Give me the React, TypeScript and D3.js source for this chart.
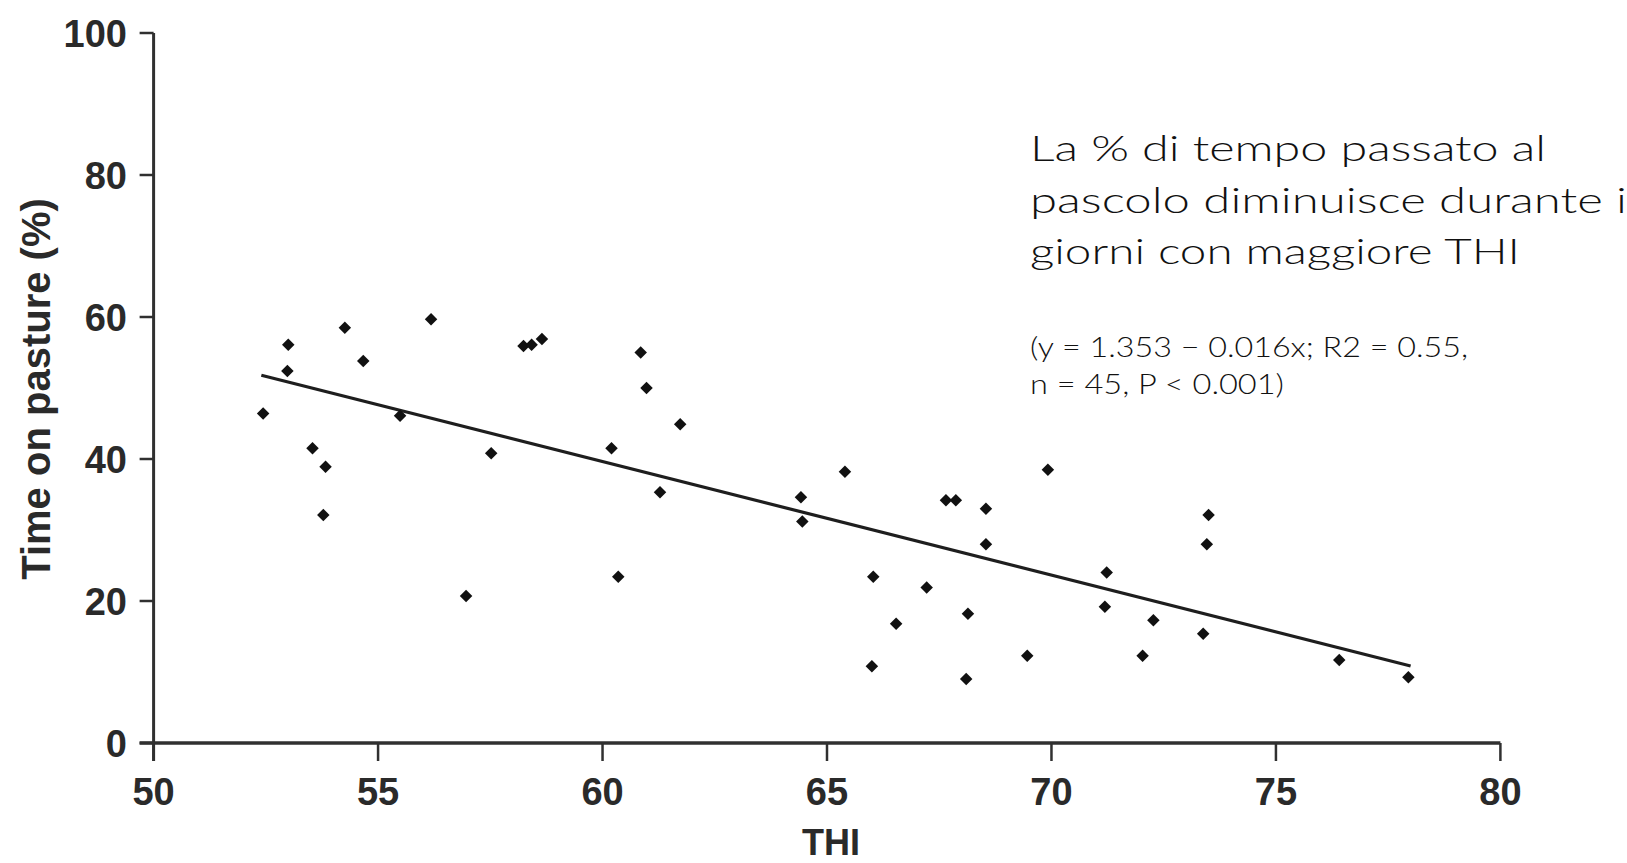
import React from 'react';
import * as d3 from 'd3';

// THI values (x) and time on pasture (%) (y)
const thi = [
  52.44, 53.0, 52.98, 54.26, 54.67, 53.54, 53.83, 53.78, 56.18, 55.49,
  57.52, 56.96, 58.24, 58.42, 58.65, 60.85, 60.98, 61.73, 60.2, 61.28,
  60.35, 65.4, 64.42, 64.45, 66.03, 66.0, 66.54, 67.22, 67.65, 67.87,
  68.54, 68.54, 68.14, 68.1, 69.92, 69.46, 71.23, 71.19, 72.27, 72.03,
  73.5, 73.46, 73.38, 76.41, 77.95,
];
const pasture = [
  46.4, 56.1, 52.4, 58.5, 53.8, 41.5, 38.9, 32.1, 59.7, 46.1,
  40.8, 20.7, 55.9, 56.1, 56.9, 55.0, 50.0, 44.9, 41.5, 35.3,
  23.4, 38.2, 34.6, 31.2, 23.4, 10.8, 16.8, 21.9, 34.2, 34.2,
  33.0, 28.0, 18.2, 9.0, 38.5, 12.3, 24.0, 19.2, 17.3, 12.3,
  32.1, 28.0, 15.4, 11.7, 9.25,
];
const fitX = [52.4, 78.0];
const fitY = [51.8, 10.85];
const xTicks = [50, 55, 60, 65, 70, 75, 80];
const yTicks = [0, 20, 40, 60, 80, 100];
const xDomain = [50, 80];
const yDomain = [0, 100];
const xTitle = 'THI';
const yTitle = 'Time on pasture (%)';
const noteLines = ['La % di tempo passato al', 'pascolo diminuisce durante i', 'giorni con maggiore THI'];
const statLines = ['(y = 1.353 \u2212 0.016x; R2 = 0.55,', 'n = 45, P < 0.001)'];

const W = 1627;
const H = 863;

export default function App() {
  const x = d3.scaleLinear().domain(xDomain).range([153.6, 1500.4]);
  const y = d3.scaleLinear().domain(yDomain).range([743, 33]);
  const points = thi.map((t, i) => ({ x: t, y: pasture[i] }));
  const fit = fitX.map((t, i) => ({ x: t, y: fitY[i] }));
  const line = d3.line<{ x: number; y: number }>().x((d) => x(d.x)).y((d) => y(d.y));
  const marker = d3.symbol().type(d3.symbolSquare).size(78)() as string;

  const axisColor = '#303030';
  const tickFont = { fontFamily: '"Liberation Sans", Arial, sans-serif', fontWeight: 700, fontSize: 38, fill: '#2a2a2a' } as const;
  const noteFont = 'Lato, "Open Sans", "DejaVu Sans", sans-serif';
  const noteWidths = [516, 597, 490];
  const noteBase = [161, 213, 264];
  const statWidths = [438, 254];
  const statBase = [357, 394];

  return (
    <svg width={W} height={H} style={{ position: 'absolute', left: 0, top: 0, background: '#fff' }}>
      <rect x={0} y={0} width={W} height={H} fill="#fff" />
      {/* y axis */}
      <line x1={x(50)} x2={x(50)} y1={y(100)} y2={y(0) + 18} stroke={axisColor} strokeWidth={3} />
      {yTicks.map((t) => (
        <g key={'y' + t}>
          <line x1={x(50) - 14} x2={x(50)} y1={y(t)} y2={y(t)} stroke={axisColor} strokeWidth={2.5} />
          <text x={127} y={y(t) + 13.5} textAnchor="end" {...tickFont}>{t}</text>
        </g>
      ))}
      {/* x axis */}
      <line x1={x(50) - 14} x2={x(80)} y1={y(0)} y2={y(0)} stroke={axisColor} strokeWidth={3.5} />
      {xTicks.map((t) => (
        <g key={'x' + t}>
          <line x1={x(t)} x2={x(t)} y1={y(0)} y2={y(0) + 18} stroke={axisColor} strokeWidth={2.5} />
          <text x={x(t)} y={805} textAnchor="middle" {...tickFont}>{t}</text>
        </g>
      ))}
      <text x={831} y={855} textAnchor="middle" {...tickFont} fontSize={36}>{xTitle}</text>
      <text transform="translate(50,389) rotate(-90)" textAnchor="middle" {...tickFont} fontSize={40}>{yTitle}</text>

      {/* regression line */}
      <path d={line(fit) || ''} fill="none" stroke="#1e1e1e" strokeWidth={3.2} />

      {/* points */}
      {points.map((p, i) => (
        <path key={i} d={marker} transform={`translate(${x(p.x)},${y(p.y)}) rotate(45)`} fill="#111" />
      ))}

      {/* annotation */}
      {noteLines.map((s, i) => (
        <text key={'n' + i} x={1030} y={noteBase[i]} fontFamily={noteFont} fontWeight={300} fontSize={36} fill="#111"
          textLength={noteWidths[i]} lengthAdjust="spacingAndGlyphs">{s}</text>
      ))}
      {statLines.map((s, i) => (
        <text key={'s' + i} x={1030} y={statBase[i]} fontFamily={noteFont} fontWeight={300} fontSize={27} fill="#111"
          textLength={statWidths[i]} lengthAdjust="spacingAndGlyphs">{s}</text>
      ))}
    </svg>
  );
}
